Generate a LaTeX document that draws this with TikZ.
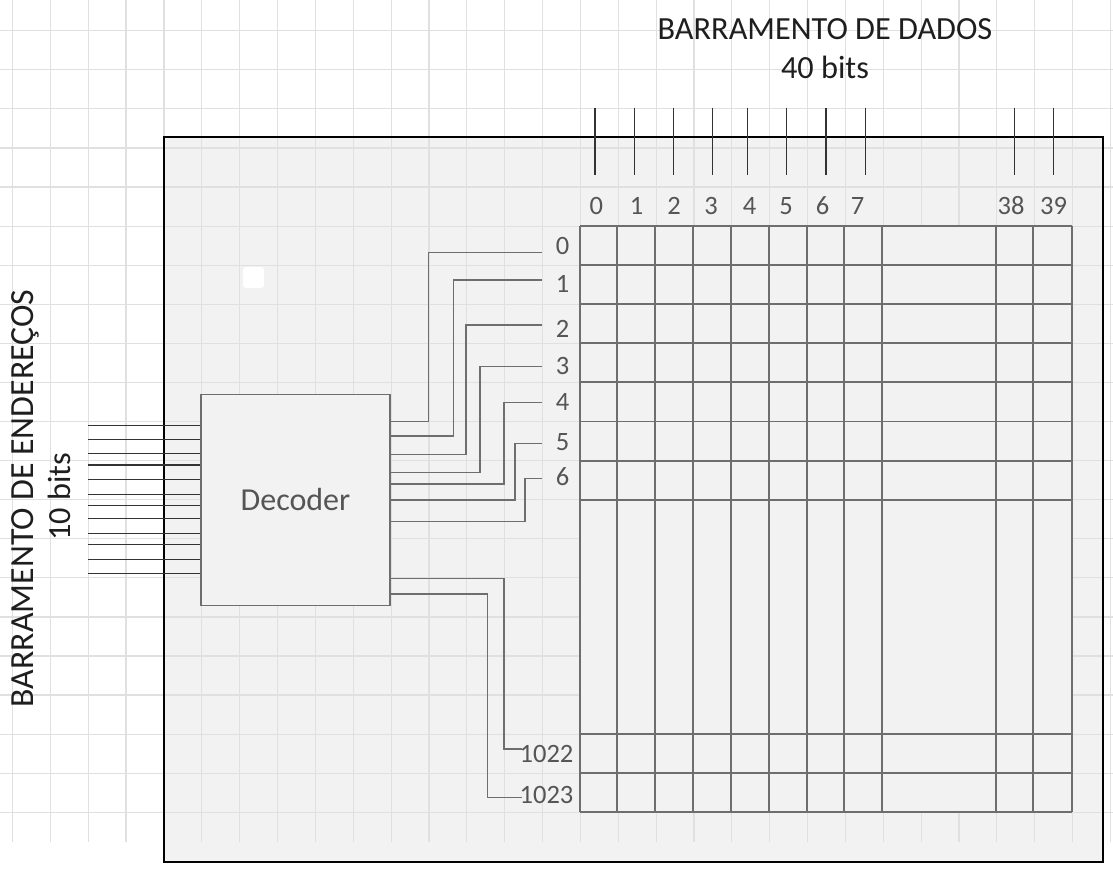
\documentclass[tikz,border=0pt]{standalone}
\usepackage{fontspec}
\setmainfont{Carlito}
\definecolor{boxfill}{HTML}{F2F2F2}
\definecolor{gridgray}{HTML}{E0E0E0}
\definecolor{wiregray}{HTML}{6E6E6E}
\definecolor{matgray}{HTML}{6E6E6E}
\definecolor{busdark}{HTML}{333333}
\definecolor{labgray}{HTML}{555555}
\definecolor{titleink}{HTML}{1E1E1E}
\begin{document}
\begin{tikzpicture}[x=1pt,y=-1pt,
  gridline/.style={draw=gridgray,line width=1.2pt},
  boxborder/.style={draw=black,line width=1.2pt},
  decbox/.style={draw=wiregray,fill=boxfill,line width=1.5pt,minimum width=189pt,minimum height=211pt,inner sep=0pt,text=labgray,font=\fontsize{32}{36}\selectfont},
  wire/.style={draw=wiregray,line width=1.5pt},
  matline/.style={draw=matgray,line width=1.9pt},
  bus/.style={draw=busdark,line width=1.5pt},
  lbl/.style={text=labgray,inner sep=0pt,text height=16pt,text depth=0pt,font=\fontsize{26.5}{30}\selectfont},
  title/.style={text=titleink,inner sep=0pt,anchor=base,font=\fontsize{32.3}{36}\selectfont}]
\useasboundingbox (0,0) rectangle (1113,872);
\fill[white] (0,0) rectangle (1113,872);
% outer grey panel
\fill[boxfill] (164,137) rectangle (1103,862);
% background grid
\foreach \k in {0,...,29} \draw[gridline] ({12.5+37.86*\k},0) -- ({12.5+37.86*\k},842);
\foreach \k in {0,...,20} \draw[gridline] (0,{30.7+39.08*\k}) -- (1113,{30.7+39.08*\k});
\draw[boxborder] (164,137) rectangle (1103,862);
% small white square
\fill[white,rounded corners=3pt] (243,267) rectangle (264,288);
% titles
\node[title] (t1) at (825,39.3) {BARRAMENTO DE DADOS};
\node[title] (t2) at (825,78.3) {40 bits};
\node[title,rotate=90,font=\fontsize{33.8}{38}\selectfont] (t3) at (33.5,498.5) {BARRAMENTO DE ENDEREÇOS};
\node[title,rotate=90] (t4) at (70.7,497) {10 bits};
% decoder
\node[decbox] (dec) at (295.5,499.8) {Decoder};
% address bus
\foreach \y [count=\i] in {425.7,439.3,453.3,465,479.3,494.3,505.7,518.7,533.3,544.7,559.3,573.7}{
  \coordinate (a\i) at (88,\y);
  \draw[bus] (a\i) -- (dec.west |- a\i);
}
% memory matrix
\fill[boxfill] (580,226) rectangle (1071.7,812.3);
\foreach \x in {580,617.2,655.4,692.6,730.9,768.8,806.7,844.2,882.1,996.1,1033.3,1071.7}
  \draw[matline] (\x,226) -- (\x,812.3);
\foreach \y in {226,265.1,304.2,343.3,382.4,421.5,460.6,499.7,734.2,773.3,812.3}
  \draw[matline] (580,\y) -- (1071.7,\y);
% data bus lines and column labels
\foreach \x/\lx/\t in {595/596.3/0,634.4/636.7/1,673.3/674/2,712.6/711/3,747.7/749.5/4,786.7/786/5,826/822.5/6,865.3/857.5/7,1014.4/1011/38,1053.7/1053.5/39}{
  \coordinate (d\t) at (\x,108);
  \node[lbl] (c\t) at (\lx,206.7) {\t};
  \draw[bus] (d\t) -- (\x,175);
}
% decoder outputs 0..6
\foreach \n/\oy/\vx/\iy/\ly in {0/421.7/428.3/252.3/246.7,1/436/453.3/280/284,2/454.3/466/325/329,3/472.3/480/366.7/366,4/484/504/402.7/402,5/500/515/443.3/442,6/521.7/525/478.3/477.3}{
  \coordinate (o\n) at (dec.east |- 0,\oy);
  \coordinate (i\n) at (542,\iy);
  \node[lbl] (r\n) at (562.5,\ly) {\n};
  \draw[wire] (o\n) -- (\vx,\oy) |- (i\n);
}
% decoder outputs 1022, 1023
\foreach \n/\oy/\vx/\iy/\ly in {1022/578.3/504/749/754.5,1023/594/487.3/797.3/795.8}{
  \coordinate (o\n) at (dec.east |- 0,\oy);
  \coordinate (i\n) at (522,\iy);
  \node[lbl] (r\n) at (546.5,\ly) {\n};
  \draw[wire] (o\n) -- (\vx,\oy) |- (i\n);
}
\end{tikzpicture}
\end{document}
